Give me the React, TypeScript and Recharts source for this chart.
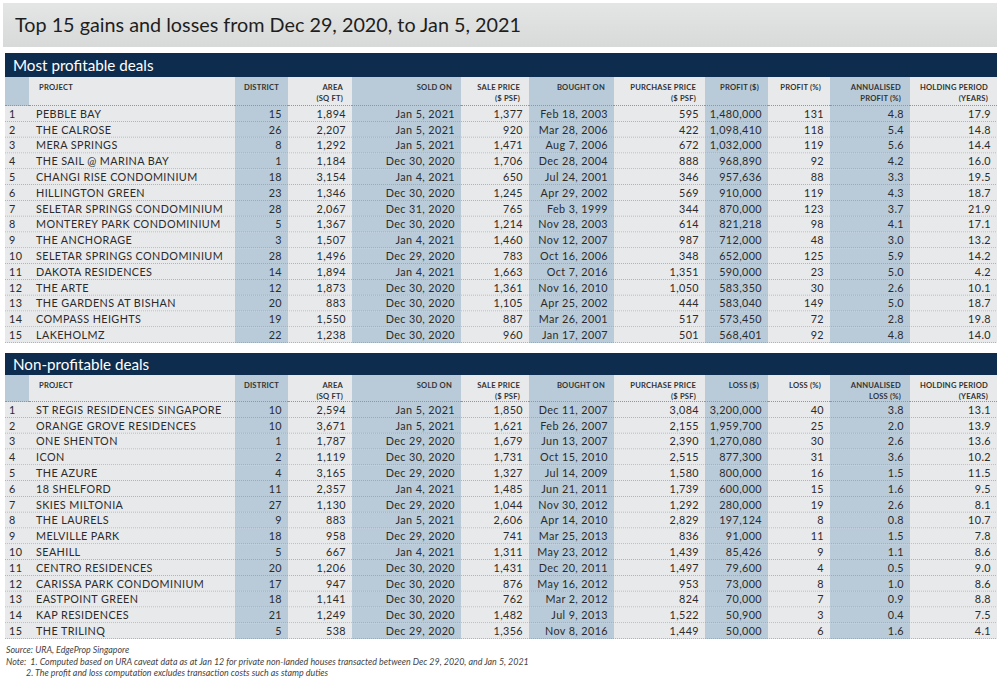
import { BarChart, Bar, XAxis, YAxis } from 'recharts'

const projectsGain = ['PEBBLE BAY', 'THE CALROSE', 'MERA SPRINGS', 'THE SAIL @ MARINA BAY', 'CHANGI RISE CONDOMINIUM', 'HILLINGTON GREEN', 'SELETAR SPRINGS CONDOMINIUM', 'MONTEREY PARK CONDOMINIUM', 'THE ANCHORAGE', 'SELETAR SPRINGS CONDOMINIUM', 'DAKOTA RESIDENCES', 'THE ARTE', 'THE GARDENS AT BISHAN', 'COMPASS HEIGHTS', 'LAKEHOLMZ']
const districtGain = [15, 26, 8, 1, 18, 23, 28, 5, 3, 28, 14, 12, 20, 19, 22]
const areaGain = [1894, 2207, 1292, 1184, 3154, 1346, 2067, 1367, 1507, 1496, 1894, 1873, 883, 1550, 1238]
const soldGain = ['Jan 5, 2021', 'Jan 5, 2021', 'Jan 5, 2021', 'Dec 30, 2020', 'Jan 4, 2021', 'Dec 30, 2020', 'Dec 31, 2020', 'Dec 30, 2020', 'Jan 4, 2021', 'Dec 29, 2020', 'Jan 4, 2021', 'Dec 30, 2020', 'Dec 30, 2020', 'Dec 30, 2020', 'Dec 30, 2020']
const saleGain = [1377, 920, 1471, 1706, 650, 1245, 765, 1214, 1460, 783, 1663, 1361, 1105, 887, 960]
const boughtGain = ['Feb 18, 2003', 'Mar 28, 2006', 'Aug 7, 2006', 'Dec 28, 2004', 'Jul 24, 2001', 'Apr 29, 2002', 'Feb 3, 1999', 'Nov 28, 2003', 'Nov 12, 2007', 'Oct 16, 2006', 'Oct 7, 2016', 'Nov 16, 2010', 'Apr 25, 2002', 'Mar 26, 2001', 'Jan 17, 2007']
const purchaseGain = [595, 422, 672, 888, 346, 569, 344, 614, 987, 348, 1351, 1050, 444, 517, 501]
const profitAmt = [1480000, 1098410, 1032000, 968890, 957636, 910000, 870000, 821218, 712000, 652000, 590000, 583350, 583040, 573450, 568401]
const profitPct = [131, 118, 119, 92, 88, 119, 123, 98, 48, 125, 23, 30, 149, 72, 92]
const annualGain = [4.8, 5.4, 5.6, 4.2, 3.3, 4.3, 3.7, 4.1, 3.0, 5.9, 5.0, 2.6, 5.0, 2.8, 4.8]
const holdGain = [17.9, 14.8, 14.4, 16.0, 19.5, 18.7, 21.9, 17.1, 13.2, 14.2, 4.2, 10.1, 18.7, 19.8, 14.0]

const projectsLoss = ['ST REGIS RESIDENCES SINGAPORE', 'ORANGE GROVE RESIDENCES', 'ONE SHENTON', 'ICON', 'THE AZURE', '18 SHELFORD', 'SKIES MILTONIA', 'THE LAURELS', 'MELVILLE PARK', 'SEAHILL', 'CENTRO RESIDENCES', 'CARISSA PARK CONDOMINIUM', 'EASTPOINT GREEN', 'KAP RESIDENCES', 'THE TRILINQ']
const districtLoss = [10, 10, 1, 2, 4, 11, 27, 9, 18, 5, 20, 17, 18, 21, 5]
const areaLoss = [2594, 3671, 1787, 1119, 3165, 2357, 1130, 883, 958, 667, 1206, 947, 1141, 1249, 538]
const soldLoss = ['Jan 5, 2021', 'Jan 5, 2021', 'Dec 29, 2020', 'Dec 30, 2020', 'Dec 29, 2020', 'Jan 4, 2021', 'Dec 29, 2020', 'Jan 5, 2021', 'Dec 29, 2020', 'Jan 4, 2021', 'Dec 30, 2020', 'Dec 30, 2020', 'Dec 30, 2020', 'Dec 30, 2020', 'Dec 29, 2020']
const saleLoss = [1850, 1621, 1679, 1731, 1327, 1485, 1044, 2606, 741, 1311, 1431, 876, 762, 1482, 1356]
const boughtLoss = ['Dec 11, 2007', 'Feb 26, 2007', 'Jun 13, 2007', 'Oct 15, 2010', 'Jul 14, 2009', 'Jun 21, 2011', 'Nov 30, 2012', 'Apr 14, 2010', 'Mar 25, 2013', 'May 23, 2012', 'Dec 20, 2011', 'May 16, 2012', 'Mar 2, 2012', 'Jul 9, 2013', 'Nov 8, 2016']
const purchaseLoss = [3084, 2155, 2390, 2515, 1580, 1739, 1292, 2829, 836, 1439, 1497, 953, 824, 1522, 1449]
const lossAmt = [3200000, 1959700, 1270080, 877300, 800000, 600000, 280000, 197124, 91000, 85426, 79600, 73000, 70000, 50900, 50000]
const lossPct = [40, 25, 30, 31, 16, 15, 19, 8, 11, 9, 4, 8, 7, 3, 6]
const annualLoss = [3.8, 2.0, 2.6, 3.6, 1.5, 1.6, 2.6, 0.8, 1.5, 1.1, 0.5, 1.0, 0.9, 0.4, 1.6]
const holdLoss = [13.1, 13.9, 13.6, 10.2, 11.5, 9.5, 8.1, 10.7, 7.8, 8.6, 9.0, 8.6, 8.8, 7.5, 4.1]

const headersGain = [[''], ['PROJECT'], ['DISTRICT'], ['AREA', '(SQ FT)'], ['SOLD ON'], ['SALE PRICE', '($ PSF)'], ['BOUGHT ON'], ['PURCHASE PRICE', '($ PSF)'], ['PROFIT ($)'], ['PROFIT (%)'], ['ANNUALISED', 'PROFIT (%)'], ['HOLDING PERIOD', '(YEARS)']]
const headersLoss = [[''], ['PROJECT'], ['DISTRICT'], ['AREA', '(SQ FT)'], ['SOLD ON'], ['SALE PRICE', '($ PSF)'], ['BOUGHT ON'], ['PURCHASE PRICE', '($ PSF)'], ['LOSS ($)'], ['LOSS (%)'], ['ANNUALISED', 'LOSS (%)'], ['HOLDING PERIOD', '(YEARS)']]

// column edges in page px
const COLS = [
  { x0: 5, x1: 29, left: true, shade: false },
  { x0: 29, x1: 235, left: true, shade: false },
  { x0: 235, x1: 288, shade: true },
  { x0: 288, x1: 352, shade: false },
  { x0: 352, x1: 461, shade: true },
  { x0: 461, x1: 529, shade: false },
  { x0: 529, x1: 614, shade: true },
  { x0: 614, x1: 705, shade: false },
  { x0: 705, x1: 768, shade: true },
  { x0: 768, x1: 830, shade: false },
  { x0: 830, x1: 910, shade: true },
  { x0: 910, x1: 997, shade: false },
]

const FONT = 'Lato, "Open Sans", sans-serif'
const LIGHT = '#e8e9ea'
const SHADE = '#b9cbd9'
const NAVY = '#0e2d4e'
const TEXT = '#2b2b2b'

const num = (n: number) => n.toLocaleString('en-US')
const one = (n: number) => n.toFixed(1)

type Row = { rank: number; span: number; cells: string[] }

function buildRows(
  projects: string[], district: number[], area: number[], sold: string[], sale: number[],
  bought: string[], purchase: number[], amt: number[], pct: number[], annual: number[], hold: number[],
): Row[] {
  return projects.map((p, i) => ({
    rank: i + 1,
    span: 1,
    cells: [String(i + 1), p, String(district[i]), num(area[i]), sold[i], num(sale[i]), bought[i],
      num(purchase[i]), num(amt[i]), String(pct[i]), one(annual[i]), one(hold[i])],
  }))
}

const rowsGain = buildRows(projectsGain, districtGain, areaGain, soldGain, saleGain, boughtGain, purchaseGain, profitAmt, profitPct, annualGain, holdGain)
const rowsLoss = buildRows(projectsLoss, districtLoss, areaLoss, soldLoss, saleLoss, boughtLoss, purchaseLoss, lossAmt, lossPct, annualLoss, holdLoss)

function RowShape(props: any) {
  const { x, y, width, height, payload } = props
  const cells: string[] = payload.cells
  const base = y + height / 2 + 3.7
  return (
    <g>
      {COLS.map((c, i) => (
        <rect key={'b' + i} x={x + c.x0 - 5} y={y} width={c.x1 - c.x0} height={height} fill={c.shade ? SHADE : LIGHT} />
      ))}
      <line x1={x} x2={x + width} y1={y + height - 0.5} y2={y + height - 0.5} stroke="#8e979e" strokeWidth={0.8} strokeDasharray="1 1" />
      {COLS.map((c, i) => {
        const left = (c as any).left
        const pad = i === 0 ? 4 : 7
        return (
          <text key={'t' + i} x={left ? x + c.x0 - 5 + pad : x + c.x1 - 5 - 6} y={base}
            textAnchor={left ? 'start' : 'end'} fontSize={10.8} letterSpacing={0.4} fontFamily={FONT} fill={TEXT}>
            {cells[i]}
          </text>
        )
      })}
    </g>
  )
}

function Section({ title, top, bandH, headH, headers, rows }: { title: string; top: number; bandH: number; headH: number; headers: string[][]; rows: Row[] }) {
  const rowsTop = top + bandH + headH
  return (
    <>
      <div style={{ position: 'absolute', left: 5, top, width: 992, height: bandH, background: NAVY }}>
        <span style={{ position: 'absolute', left: 8, top: bandH / 2 - 10, fontSize: 15.2, color: '#fff', fontFamily: FONT, lineHeight: '20px' }}>{title}</span>
      </div>
      {COLS.map((c, i) => (
        <div key={i} style={{
          position: 'absolute', left: c.x0, top: top + bandH, width: c.x1 - c.x0, height: headH,
          background: c.shade || i === 0 ? SHADE : LIGHT, boxSizing: 'border-box',
          paddingLeft: (c as any).left ? 10 : 0, paddingRight: (c as any).left ? 0 : 9, paddingTop: 5,
          textAlign: (c as any).left ? 'left' : 'right', fontFamily: FONT, fontWeight: 700, fontSize: 7.6,
          lineHeight: '11px', color: '#333', letterSpacing: 0.2,
          borderBottom: '1px dotted #8e979e',
        }}>
          {headers[i].map((h, k) => <div key={k}>{h}</div>)}
        </div>
      ))}
      <div style={{ position: 'absolute', left: 5, top: rowsTop }}>
        <BarChart width={992} height={237} data={rows} layout="vertical" barCategoryGap={0}
          margin={{ top: 0, right: 0, bottom: 0, left: 0 }}>
          <XAxis type="number" domain={[0, 1]} hide />
          <YAxis type="category" dataKey="rank" hide />
          <Bar dataKey="span" isAnimationActive={false} shape={RowShape} />
        </BarChart>
      </div>
    </>
  )
}

export default function App() {
  return (
    <div style={{ position: 'absolute', left: 0, top: 0, width: 1000, height: 680, background: '#fff', overflow: 'hidden', fontFamily: FONT }}>
      <div style={{ position: 'absolute', left: 3, top: 3, width: 994, height: 44, background: 'linear-gradient(#e4e5e5, #d8d9d9)' }}>
        <span style={{ position: 'absolute', left: 12, top: 8, fontSize: 19.8, color: '#1e1e1e', lineHeight: '26px' }}>
          Top 15 gains and losses from Dec 29, 2020, to Jan 5, 2021
        </span>
      </div>
      <Section title="Most profitable deals" top={53} bandH={24} headH={29} headers={headersGain} rows={rowsGain} />
      <Section title="Non-profitable deals" top={353} bandH={22} headH={27} headers={headersLoss} rows={rowsLoss} />
      <div style={{ position: 'absolute', left: 6, top: 644, fontSize: 8.9, fontStyle: 'italic', color: '#444', lineHeight: '11.5px' }}>
        <div>Source: URA, EdgeProp Singapore</div>
        <div>Note:&nbsp; 1. Computed based on URA caveat data as at Jan 12 for private non-landed houses transacted between Dec 29, 2020, and Jan 5, 2021</div>
        <div style={{ paddingLeft: 20 }}>2. The profit and loss computation excludes transaction costs such as stamp duties</div>
      </div>
    </div>
  )
}
